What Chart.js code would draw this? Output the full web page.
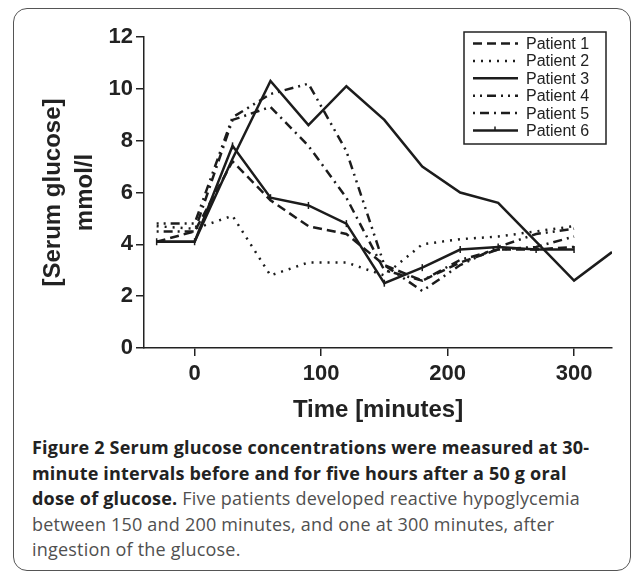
<!DOCTYPE html>
<html>
<head>
<meta charset="utf-8">
<script src="https://cdn.jsdelivr.net/npm/chart.js@4.4.1/dist/chart.umd.min.js"></script>
<style>
  html, body { margin: 0; padding: 0; background: #fff; }
  body { width: 633px; height: 574px; position: relative; overflow: hidden; }
  .frame {
    position: absolute; left: 13px; top: 8px; width: 618px; height: 563px;
    border: 1.5px solid #555; border-radius: 14px; box-sizing: border-box;
  }
  #glucoseChart { position: absolute; left: 0; top: 0; }
  .caption {
    position: absolute; left: 32px; top: 435px;
    font-family: "Open Sans", sans-serif; font-size: 18px; line-height: 25.5px;
    letter-spacing: 0.2px; color: #505050; white-space: nowrap;
  }
  .caption b { color: #222; font-weight: 700; }
</style>
</head>
<body>
<div class="frame"></div>
<canvas id="glucoseChart" width="633" height="430"></canvas>
<div class="caption">
  <b>Figure 2 Serum glucose concentrations were measured at 30-</b><br>
  <b>minute intervals before and for five hours after a 50 g oral</b><br>
  <b>dose of glucose.</b> Five patients developed reactive hypoglycemia<br>
  between 150 and 200 minutes, and one at 300 minutes, after<br>
  ingestion of the glucose.
</div>
<script>
// sampling times (minutes)
const times = [-30, 0, 30, 60, 90, 120, 150, 180, 210, 240, 270, 300];
const times3 = [-30, 0, 30, 60, 90, 120, 150, 180, 210, 240, 270, 300, 330];

// serum glucose, mmol/l
const patient1 = [4.1, 4.5, 7.2, 5.7, 4.7, 4.4, 3.2, 2.6, 3.3, 3.8, 3.8, 3.9];
const patient2 = [4.7, 4.6, 5.1, 2.8, 3.3, 3.3, 2.8, 4.0, 4.2, 4.3, 4.5, 4.7];
const patient3 = [4.1, 4.1, 7.3, 10.3, 8.6, 10.1, 8.8, 7.0, 6.0, 5.6, 4.1, 2.6, 3.7];
const patient4 = [4.8, 4.8, 8.9, 9.8, 10.2, 7.6, 3.2, 2.2, 3.2, 3.9, 4.4, 4.6];
const patient5 = [4.5, 4.5, 8.8, 9.3, 7.8, 5.8, 3.0, 2.6, 3.4, 3.8, 3.9, 4.3];
const patient6 = [4.1, 4.1, 7.8, 5.8, 5.5, 4.8, 2.5, 3.1, 3.8, 3.9, 3.8, 3.8];

const xTickValues = [0, 100, 200, 300];
const yTickValues = [0, 2, 4, 6, 8, 10, 12];

const ink = '#1c1c1c';
const axisFont = '"Liberation Sans", Arial, sans-serif';

function toPoints(xs, ys) {
  return ys.map((v, i) => ({ x: xs[i], y: v }));
}

function series(label, xs, ys, dash, extra) {
  return Object.assign({
    label: label,
    data: toPoints(xs, ys),
    borderColor: ink,
    borderWidth: 2.5,
    borderDash: dash,
    pointRadius: 0,
    tension: 0,
    fill: false
  }, extra || {});
}

// legend drawn as a boxed key inside the plot, top right
const legendBox = {
  id: 'legendBox',
  afterDatasetsDraw(chart) {
    const ctx = chart.ctx;
    const x = 464, y = 32, w = 142, h = 112;
    ctx.save();
    ctx.fillStyle = '#fff';
    ctx.fillRect(x, y, w, h);
    ctx.strokeStyle = '#222';
    ctx.lineWidth = 1.5;
    ctx.strokeRect(x, y, w, h);
    chart.data.datasets.forEach((ds, i) => {
      const ly = y + 11.5 + i * 17.4;
      ctx.strokeStyle = ds.borderColor;
      ctx.lineWidth = ds.borderWidth;
      ctx.setLineDash(ds.borderDash || []);
      ctx.beginPath();
      ctx.moveTo(x + 9, ly);
      ctx.lineTo(x + 54, ly);
      ctx.stroke();
      ctx.setLineDash([]);
      if (ds.pointRadius > 0) {
        ctx.lineWidth = 1.5;
        ctx.beginPath();
        ctx.moveTo(x + 31, ly - 4);
        ctx.lineTo(x + 31, ly);
        ctx.stroke();
      }
      ctx.fillStyle = '#222';
      ctx.font = '16px ' + axisFont;
      ctx.textBaseline = 'middle';
      ctx.fillText(ds.label, x + 62, ly + 1);
    });
    ctx.restore();
  }
};

new Chart(document.getElementById('glucoseChart'), {
  type: 'line',
  data: {
    datasets: [
      series('Patient 1', times, patient1, [9, 5]),
      series('Patient 2', times, patient2, [2, 6]),
      series('Patient 3', times3, patient3, []),
      series('Patient 4', times, patient4, [2, 5, 2, 5, 9, 5]),
      series('Patient 5', times, patient5, [2, 5, 9, 5]),
      series('Patient 6', times, patient6, [], {
        pointRadius: 3.5,
        pointStyle: 'line',
        rotation: 90,
        pointBorderWidth: 1.5,
        pointBorderColor: ink
      })
    ]
  },
  options: {
    responsive: false,
    animation: false,
    layout: { padding: { top: 37, right: 21, bottom: 0, left: 0 } },
    plugins: {
      legend: { display: false },
      tooltip: { enabled: false }
    },
    scales: {
      x: {
        type: 'linear',
        min: -40,
        max: 330,
        afterBuildTicks: s => { s.ticks = xTickValues.map(v => ({ value: v })); },
        afterFit: s => { s.height = 82; },
        grid: { drawOnChartArea: false, drawTicks: true, tickLength: 8, color: '#222', lineWidth: 1.5 },
        border: { display: true, color: '#222', width: 1.5 },
        ticks: { color: '#222', padding: 5, maxRotation: 0, font: { family: axisFont, size: 22, weight: 'bold' } },
        title: {
          display: true,
          text: 'Time [minutes]',
          color: '#222',
          padding: { top: 0, bottom: 5 },
          font: { family: axisFont, size: 24, weight: 'bold', lineHeight: 1.2 }
        }
      },
      y: {
        min: 0,
        max: 12,
        afterBuildTicks: s => { s.ticks = yTickValues.map(v => ({ value: v })); },
        afterFit: s => { s.width = 144; },
        grid: { drawOnChartArea: false, drawTicks: true, tickLength: 8, color: '#222', lineWidth: 1.5 },
        border: { display: true, color: '#222', width: 1.5 },
        ticks: { color: '#222', padding: 3, font: { family: axisFont, size: 22, weight: 'bold' } },
        title: {
          display: true,
          text: ['[Serum glucose]', 'mmol/l'],
          color: '#222',
          padding: { top: 37, bottom: 0 },
          font: { family: axisFont, size: 24, weight: 'bold', lineHeight: 1.35 }
        }
      }
    }
  },
  plugins: [legendBox]
});
</script>
</body>
</html>
